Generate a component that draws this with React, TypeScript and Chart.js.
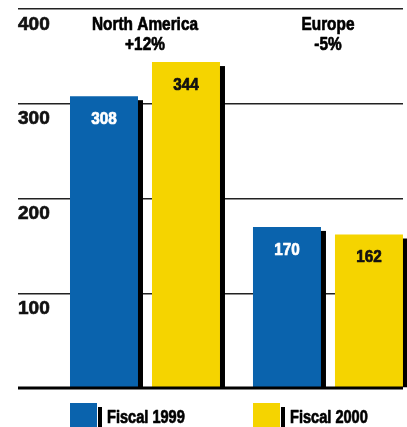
import React, { useEffect, useRef } from "react";
import { Chart, registerables } from "chart.js";

Chart.register(...registerables);

// ---- data ----
const regions = ["North America", "Europe"];
const regionChange = ["+12%", "-5%"];
const seriesNames = ["Fiscal 1999", "Fiscal 2000"];
const fiscal1999 = [308, 170];
const fiscal2000 = [344, 162];
const yTickStep = 100;
const yMax = 400;

// ---- style ----
const BLUE = "#0a63ad";
const YELLOW = "#f5d400";
const FONT = '"Liberation Sans", Arial, sans-serif';
const labelColors = ["#ffffff", "#111111"];

function condensedText(ctx: any, text: string, x: number, y: number, size: number, sx: number) {
  ctx.save();
  ctx.font = `bold ${size}px ${FONT}`;
  ctx.translate(x, y);
  ctx.scale(sx, 1);
  ctx.strokeStyle = ctx.fillStyle;
  ctx.lineWidth = 0.7;
  ctx.lineJoin = "round";
  ctx.strokeText(text, 0, 0);
  ctx.fillText(text, 0, 0);
  ctx.restore();
}

const decorPlugin = {
  id: "decor",
  beforeDatasetsDraw(chart: any) {
    const ctx = chart.ctx;
    ctx.save();
    ctx.fillStyle = "#000";
    chart.data.datasets.forEach((_: any, di: number) => {
      const meta = chart.getDatasetMeta(di);
      meta.data.forEach((bar: any) => {
        const left = bar.x - bar.width / 2 + 5;
        const top = bar.y + 4;
        ctx.fillRect(left, top, bar.width, bar.base - top);
      });
    });
    ctx.restore();
  },
  afterDatasetsDraw(chart: any) {
    const ctx = chart.ctx;
    const area = chart.chartArea;
    const xs = chart.scales.x;
    const ys = chart.scales.y;
    ctx.save();
    // baseline
    const y0 = ys.getPixelForValue(0);
    ctx.strokeStyle = "#000";
    ctx.lineWidth = 3;
    ctx.beginPath();
    ctx.moveTo(area.left, y0);
    ctx.lineTo(area.right, y0);
    ctx.stroke();

    // value labels
    ctx.textAlign = "center";
    ctx.textBaseline = "middle";
    chart.data.datasets.forEach((ds: any, di: number) => {
      const meta = chart.getDatasetMeta(di);
      meta.data.forEach((bar: any, i: number) => {
        ctx.fillStyle = labelColors[di];
        condensedText(ctx, String(ds.data[i].y), bar.x, bar.y + 23, 17, 0.9);
      });
    });

    // category labels
    ctx.fillStyle = "#000";
    regions.forEach((r, i) => {
      const cx = xs.getPixelForValue(i);
      condensedText(ctx, r, cx, area.top + 16, 19, 0.81);
      condensedText(ctx, regionChange[i], cx, area.top + 36, 19, 0.81);
    });

    // legend
    const meta0 = chart.getDatasetMeta(0);
    const ly = area.bottom + 15;
    ctx.textAlign = "left";
    ctx.textBaseline = "alphabetic";
    chart.data.datasets.forEach((ds: any, di: number) => {
      const bar = meta0.data[di];
      const lx = Math.round(bar.x - bar.width / 2);
      ctx.fillStyle = ds.backgroundColor;
      ctx.fillRect(lx, ly, 27, 30);
      ctx.fillStyle = "#000";
      ctx.fillRect(lx + 28, ly + 4, 4, 30);
      condensedText(ctx, ds.label, lx + 37, ly + 20, 18, 0.81);
    });
    ctx.restore();
  },
};

export default function App() {
  const ref = useRef<HTMLCanvasElement>(null);

  useEffect(() => {
    document.body.style.margin = "0";
    const canvas = ref.current;
    if (!canvas) return;
    const mk = (vals: number[]) => vals.map((v, i) => ({ x: i, y: v }));
    const chart = new Chart(canvas, {
      type: "bar",
      data: {
        datasets: [
          {
            label: seriesNames[0],
            data: mk(fiscal1999),
            backgroundColor: BLUE,
            categoryPercentage: 164 / 183,
            barPercentage: 68 / 82,
          },
          {
            label: seriesNames[1],
            data: mk(fiscal2000),
            backgroundColor: YELLOW,
            categoryPercentage: 164 / 183,
            barPercentage: 68 / 82,
          },
        ] as any,
      },
      options: {
        animation: false,
        responsive: false,
        events: [],
        layout: { padding: { left: 18, right: 4, top: 9, bottom: 39 } },
        plugins: { legend: { display: false }, tooltip: { enabled: false } },
        scales: {
          x: {
            type: "linear",
            min: -0.694,
            max: 1.41,
            offset: false,
            display: false,
            grid: { offset: false },
            afterBuildTicks: (s: any) => {
              s.ticks = regions.map((_, i) => ({ value: i }));
            },
          },
          y: {
            min: 0,
            max: yMax,
            grid: { color: "#222", lineWidth: 1.5, drawTicks: false },
            border: { display: false },
            ticks: {
              stepSize: yTickStep,
              mirror: true,
              padding: 0,
              labelOffset: 15.5,
              color: "#111",
              textStrokeColor: "#111",
              textStrokeWidth: 0.7,
              font: { family: FONT, size: 19, weight: "bold" },
              callback: (v: any) => (v === 0 ? "" : String(v)),
            },
            afterFit: (s: any) => {
              s.paddingTop = 0;
              s.paddingBottom = 0;
            },
          },
        } as any,
      },
      plugins: [decorPlugin],
    });
    return () => chart.destroy();
  }, []);

  return (
    <div style={{ position: "absolute", left: 0, top: 0, width: 407, height: 427, background: "#fff" }}>
      <canvas ref={ref} width={407} height={427} style={{ display: "block" }} />
    </div>
  );
}
